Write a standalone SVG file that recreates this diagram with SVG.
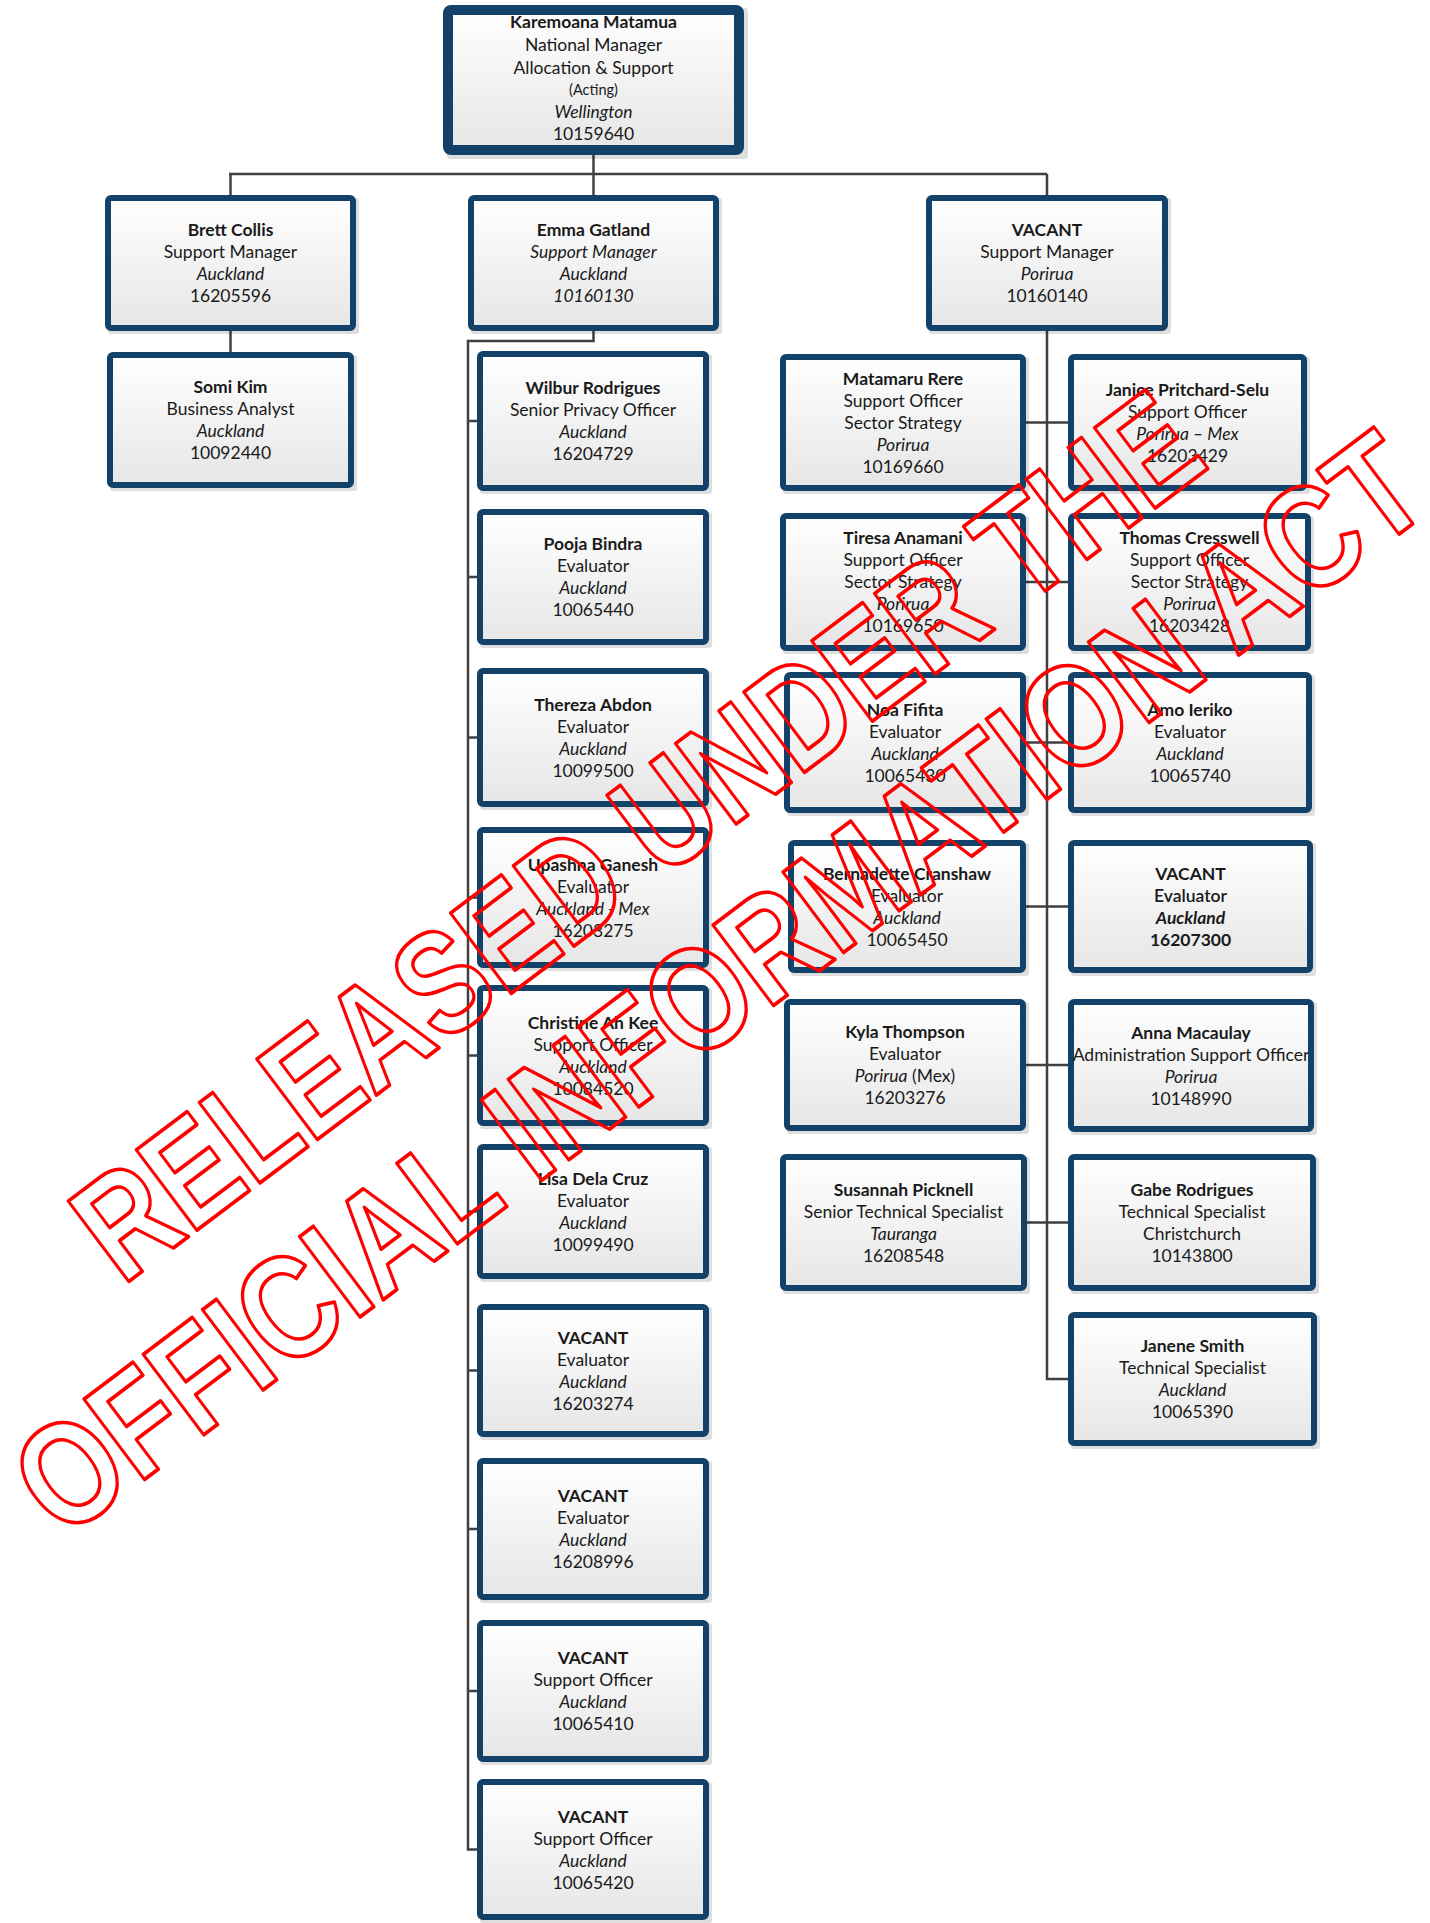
<svg xmlns="http://www.w3.org/2000/svg" width="1430" height="1923" viewBox="0 0 1430 1923">
<defs>
<linearGradient id="g" x1="0" y1="0" x2="0" y2="1">
<stop offset="0" stop-color="#FFFFFF"/>
<stop offset="1" stop-color="#E6E6E6"/>
</linearGradient>
<style>
.n{font-family:Lato,"Liberation Sans",sans-serif;font-size:17.5px;fill:#1a1a1a;text-anchor:middle}
.b{font-weight:bold}
.sb{font-weight:600}
.i{font-style:italic}
.sm{font-size:14.5px}
.box{fill:url(#g);stroke:#12426A;stroke-width:6}
.box10{fill:url(#g);stroke:#12426A;stroke-width:10}
.sh{fill:#000;opacity:0.13}
.c{stroke:#404040;stroke-width:2.5;fill:none}
.wm{font-family:"Liberation Sans",Arial,sans-serif;font-weight:bold;font-size:118px;fill:none;stroke:#FF0000;stroke-width:3;stroke-linejoin:round;text-anchor:middle}
</style>
</defs>
<rect width="1430" height="1923" fill="#FFFFFF"/>

<g id="connectors">
<path class="c" d="M593.5,155 V174 M229,174 H1047 M230.5,174 V195 M593.5,174 V195 M1047,174 V195"/>
<path class="c" d="M230.5,331 V352"/>
<path class="c" d="M593.5,331 V341 H468 V1849.5 H477 M468,421 H477 M468,577 H477 M468,737.5 H477 M468,897.5 H477 M468,1055.5 H477 M468,1211.5 H477 M468,1370.5 H477 M468,1529 H477 M468,1691 H477"/>
<path class="c" d="M1047,331 V1379 H1068 M1026,422.5 H1068 M1026,582 H1068 M1026,742.5 H1068 M1026,906.5 H1068 M1026,1065 H1068 M1027,1222.5 H1068"/>
</g>

<g id="n-karemoana">
<rect class="sh" x="447" y="8" width="301" height="151" rx="3"/>
<rect class="box10" x="448" y="10" width="291" height="140" rx="3"/>
<text class="n" x="593.5" y="28"><tspan class="b">Karemoana Matamua</tspan><tspan x="593.5" y="51">National Manager</tspan><tspan x="593.5" y="74">Allocation &amp; Support</tspan><tspan x="593.5" y="95" class="sm">(Acting)</tspan><tspan x="593.5" y="118" class="i">Wellington</tspan><tspan x="593.5" y="140">10159640</tspan></text>
</g>

<g id="n-brett">
<rect class="sh" x="108" y="198" width="251" height="136" rx="3"/>
<rect class="box" x="108" y="198" width="245" height="130" rx="3"/>
<text class="n" x="230.5" y="236"><tspan class="b">Brett Collis</tspan><tspan x="230.5" dy="22">Support Manager</tspan><tspan x="230.5" dy="22" class="i">Auckland</tspan><tspan x="230.5" dy="22">16205596</tspan></text>
</g>

<g id="n-somi">
<rect class="sh" x="110" y="355" width="247" height="136" rx="3"/>
<rect class="box" x="110" y="355" width="241" height="130" rx="3"/>
<text class="n" x="230.5" y="393"><tspan class="b">Somi Kim</tspan><tspan x="230.5" dy="22">Business Analyst</tspan><tspan x="230.5" dy="22" class="i">Auckland</tspan><tspan x="230.5" dy="22">10092440</tspan></text>
</g>

<g id="n-emma">
<rect class="sh" x="471" y="198" width="251" height="136" rx="3"/>
<rect class="box" x="471" y="198" width="245" height="130" rx="3"/>
<text class="n" x="593.5" y="236"><tspan class="b">Emma Gatland</tspan><tspan x="593.5" dy="22" class="i">Support Manager</tspan><tspan x="593.5" dy="22" class="i">Auckland</tspan><tspan x="593.5" dy="22" class="i">10160130</tspan></text>
</g>

<g id="n-vacant-mgr">
<rect class="sh" x="929" y="198" width="242" height="136" rx="3"/>
<rect class="box" x="929" y="198" width="236" height="130" rx="3"/>
<text class="n" x="1047" y="236"><tspan class="b">VACANT</tspan><tspan x="1047" dy="22">Support Manager</tspan><tspan x="1047" dy="22" class="i">Porirua</tspan><tspan x="1047" dy="22">10160140</tspan></text>
</g>

<g id="n-wilbur">
<rect class="sh" x="480" y="354" width="232" height="140" rx="3"/>
<rect class="box" x="480" y="354" width="226" height="134" rx="3"/>
<text class="n" x="593" y="394"><tspan class="b">Wilbur Rodrigues</tspan><tspan x="593" dy="22">Senior Privacy Officer</tspan><tspan x="593" dy="22" class="i">Auckland</tspan><tspan x="593" dy="22">16204729</tspan></text>
</g>

<g id="n-pooja">
<rect class="sh" x="480" y="512" width="232" height="136" rx="3"/>
<rect class="box" x="480" y="512" width="226" height="130" rx="3"/>
<text class="n" x="593" y="550"><tspan class="b">Pooja Bindra</tspan><tspan x="593" dy="22">Evaluator</tspan><tspan x="593" dy="22" class="i">Auckland</tspan><tspan x="593" dy="22">10065440</tspan></text>
</g>

<g id="n-thereza">
<rect class="sh" x="480" y="671" width="232" height="139" rx="3"/>
<rect class="box" x="480" y="671" width="226" height="133" rx="3"/>
<text class="n" x="593" y="710.5"><tspan class="b">Thereza Abdon</tspan><tspan x="593" dy="22">Evaluator</tspan><tspan x="593" dy="22" class="i">Auckland</tspan><tspan x="593" dy="22">10099500</tspan></text>
</g>

<g id="n-upashna">
<rect class="sh" x="480" y="830" width="232" height="141" rx="3"/>
<rect class="box" x="480" y="830" width="226" height="135" rx="3"/>
<text class="n" x="593" y="870.5"><tspan class="b">Upashna Ganesh</tspan><tspan x="593" dy="22">Evaluator</tspan><tspan x="593" dy="22" class="i">Auckland - Mex</tspan><tspan x="593" dy="22">16203275</tspan></text>
</g>

<g id="n-christine">
<rect class="sh" x="480" y="988" width="232" height="141" rx="3"/>
<rect class="box" x="480" y="988" width="226" height="135" rx="3"/>
<text class="n" x="593" y="1028.5"><tspan class="b">Christine Ah Kee</tspan><tspan x="593" dy="22">Support Officer</tspan><tspan x="593" dy="22" class="i">Auckland</tspan><tspan x="593" dy="22">10084520</tspan></text>
</g>

<g id="n-lisa">
<rect class="sh" x="480" y="1147" width="232" height="135" rx="3"/>
<rect class="box" x="480" y="1147" width="226" height="129" rx="3"/>
<text class="n" x="593" y="1184.5"><tspan class="b">Lisa Dela Cruz</tspan><tspan x="593" dy="22">Evaluator</tspan><tspan x="593" dy="22" class="i">Auckland</tspan><tspan x="593" dy="22">10099490</tspan></text>
</g>

<g id="n-vacant-1">
<rect class="sh" x="480" y="1307" width="232" height="133" rx="3"/>
<rect class="box" x="480" y="1307" width="226" height="127" rx="3"/>
<text class="n" x="593" y="1343.5"><tspan class="b">VACANT</tspan><tspan x="593" dy="22">Evaluator</tspan><tspan x="593" dy="22" class="i">Auckland</tspan><tspan x="593" dy="22">16203274</tspan></text>
</g>

<g id="n-vacant-2">
<rect class="sh" x="480" y="1461" width="232" height="142" rx="3"/>
<rect class="box" x="480" y="1461" width="226" height="136" rx="3"/>
<text class="n" x="593" y="1502"><tspan class="b">VACANT</tspan><tspan x="593" dy="22">Evaluator</tspan><tspan x="593" dy="22" class="i">Auckland</tspan><tspan x="593" dy="22">16208996</tspan></text>
</g>

<g id="n-vacant-3">
<rect class="sh" x="480" y="1623" width="232" height="142" rx="3"/>
<rect class="box" x="480" y="1623" width="226" height="136" rx="3"/>
<text class="n" x="593" y="1664"><tspan class="b">VACANT</tspan><tspan x="593" dy="22">Support Officer</tspan><tspan x="593" dy="22" class="i">Auckland</tspan><tspan x="593" dy="22">10065410</tspan></text>
</g>

<g id="n-vacant-4">
<rect class="sh" x="480" y="1782" width="232" height="141" rx="3"/>
<rect class="box" x="480" y="1782" width="226" height="135" rx="3"/>
<text class="n" x="593" y="1822.5"><tspan class="b">VACANT</tspan><tspan x="593" dy="22">Support Officer</tspan><tspan x="593" dy="22" class="i">Auckland</tspan><tspan x="593" dy="22">10065420</tspan></text>
</g>

<g id="n-matamaru">
<rect class="sh" x="783" y="357" width="246" height="137" rx="3"/>
<rect class="box" x="783" y="357" width="240" height="131" rx="3"/>
<text class="n" x="903" y="384.5"><tspan class="b">Matamaru Rere</tspan><tspan x="903" dy="22">Support Officer</tspan><tspan x="903" dy="22">Sector Strategy</tspan><tspan x="903" dy="22" class="i">Porirua</tspan><tspan x="903" dy="22">10169660</tspan></text>
</g>

<g id="n-janice">
<rect class="sh" x="1071" y="357" width="239" height="137" rx="3"/>
<rect class="box" x="1071" y="357" width="233" height="131" rx="3"/>
<text class="n" x="1187.5" y="395.5"><tspan class="b">Janice Pritchard-Selu</tspan><tspan x="1187.5" dy="22">Support Officer</tspan><tspan x="1187.5" dy="22" class="i">Porirua – Mex</tspan><tspan x="1187.5" dy="22">16203429</tspan></text>
</g>

<g id="n-tiresa">
<rect class="sh" x="783" y="516" width="246" height="138" rx="3"/>
<rect class="box" x="783" y="516" width="240" height="132" rx="3"/>
<text class="n" x="903" y="544"><tspan class="b">Tiresa Anamani</tspan><tspan x="903" dy="22">Support Officer</tspan><tspan x="903" dy="22">Sector Strategy</tspan><tspan x="903" dy="22" class="i">Porirua</tspan><tspan x="903" dy="22">10169650</tspan></text>
</g>

<g id="n-thomas">
<rect class="sh" x="1071" y="516" width="243" height="138" rx="3"/>
<rect class="box" x="1071" y="516" width="237" height="132" rx="3"/>
<text class="n" x="1189.5" y="544"><tspan class="b">Thomas Cresswell</tspan><tspan x="1189.5" dy="22">Support Officer</tspan><tspan x="1189.5" dy="22">Sector Strategy</tspan><tspan x="1189.5" dy="22" class="i">Porirua</tspan><tspan x="1189.5" dy="22">16203428</tspan></text>
</g>

<g id="n-noa">
<rect class="sh" x="787" y="675" width="242" height="141" rx="3"/>
<rect class="box" x="787" y="675" width="236" height="135" rx="3"/>
<text class="n" x="905" y="715.5"><tspan class="b">Noa Fifita</tspan><tspan x="905" dy="22">Evaluator</tspan><tspan x="905" dy="22" class="i">Auckland</tspan><tspan x="905" dy="22">10065430</tspan></text>
</g>

<g id="n-amo">
<rect class="sh" x="1071" y="675" width="244" height="141" rx="3"/>
<rect class="box" x="1071" y="675" width="238" height="135" rx="3"/>
<text class="n" x="1190" y="715.5"><tspan class="b">Amo Ieriko</tspan><tspan x="1190" dy="22">Evaluator</tspan><tspan x="1190" dy="22" class="i">Auckland</tspan><tspan x="1190" dy="22">10065740</tspan></text>
</g>

<g id="n-bernadette">
<rect class="sh" x="791" y="843" width="238" height="133" rx="3"/>
<rect class="box" x="791" y="843" width="232" height="127" rx="3"/>
<text class="n" x="907" y="879.5"><tspan class="b">Bernadette Cranshaw</tspan><tspan x="907" dy="22">Evaluator</tspan><tspan x="907" dy="22" class="i">Auckland</tspan><tspan x="907" dy="22">10065450</tspan></text>
</g>

<g id="n-vacant-eval">
<rect class="sh" x="1071" y="843" width="245" height="133" rx="3"/>
<rect class="box" x="1071" y="843" width="239" height="127" rx="3"/>
<text class="n" x="1190.5" y="879.5"><tspan class="b">VACANT</tspan><tspan x="1190.5" dy="22" class="sb">Evaluator</tspan><tspan x="1190.5" dy="22" class="b i">Auckland</tspan><tspan x="1190.5" dy="22" class="b">16207300</tspan></text>
</g>

<g id="n-kyla">
<rect class="sh" x="787" y="1002" width="242" height="132" rx="3"/>
<rect class="box" x="787" y="1002" width="236" height="126" rx="3"/>
<text class="n" x="905" y="1038"><tspan class="b">Kyla Thompson</tspan><tspan x="905" dy="22">Evaluator</tspan><tspan x="905" dy="22"><tspan class="i">Porirua</tspan> (Mex)</tspan><tspan x="905" dy="22">16203276</tspan></text>
</g>

<g id="n-anna">
<rect class="sh" x="1071" y="1002" width="246" height="133" rx="3"/>
<rect class="box" x="1071" y="1002" width="240" height="127" rx="3"/>
<text class="n" x="1191" y="1038.5"><tspan class="b">Anna Macaulay</tspan><tspan x="1191" dy="22">Administration Support Officer</tspan><tspan x="1191" dy="22" class="i">Porirua</tspan><tspan x="1191" dy="22">10148990</tspan></text>
</g>

<g id="n-susannah">
<rect class="sh" x="783" y="1157" width="247" height="137" rx="3"/>
<rect class="box" x="783" y="1157" width="241" height="131" rx="3"/>
<text class="n" x="903.5" y="1195.5"><tspan class="b">Susannah Picknell</tspan><tspan x="903.5" dy="22">Senior Technical Specialist</tspan><tspan x="903.5" dy="22" class="i">Tauranga</tspan><tspan x="903.5" dy="22">16208548</tspan></text>
</g>

<g id="n-gabe">
<rect class="sh" x="1071" y="1157" width="248" height="137" rx="3"/>
<rect class="box" x="1071" y="1157" width="242" height="131" rx="3"/>
<text class="n" x="1192" y="1195.5"><tspan class="b">Gabe Rodrigues</tspan><tspan x="1192" dy="22">Technical Specialist</tspan><tspan x="1192" dy="22">Christchurch</tspan><tspan x="1192" dy="22">10143800</tspan></text>
</g>

<g id="n-janene">
<rect class="sh" x="1071" y="1315" width="249" height="134" rx="3"/>
<rect class="box" x="1071" y="1315" width="243" height="128" rx="3"/>
<text class="n" x="1192.5" y="1352"><tspan class="b">Janene Smith</tspan><tspan x="1192.5" dy="22">Technical Specialist</tspan><tspan x="1192.5" dy="22" class="i">Auckland</tspan><tspan x="1192.5" dy="22">10065390</tspan></text>
</g>

<g id="watermark">
<text class="wm" transform="translate(667,876) rotate(-37) scale(1.0,1.24)">RELEASED UNDER THE</text>
<text class="wm" transform="translate(749,1024) rotate(-37) scale(1.03,1.24)">OFFICIAL INFORMATION ACT</text>
</g>
</svg>
